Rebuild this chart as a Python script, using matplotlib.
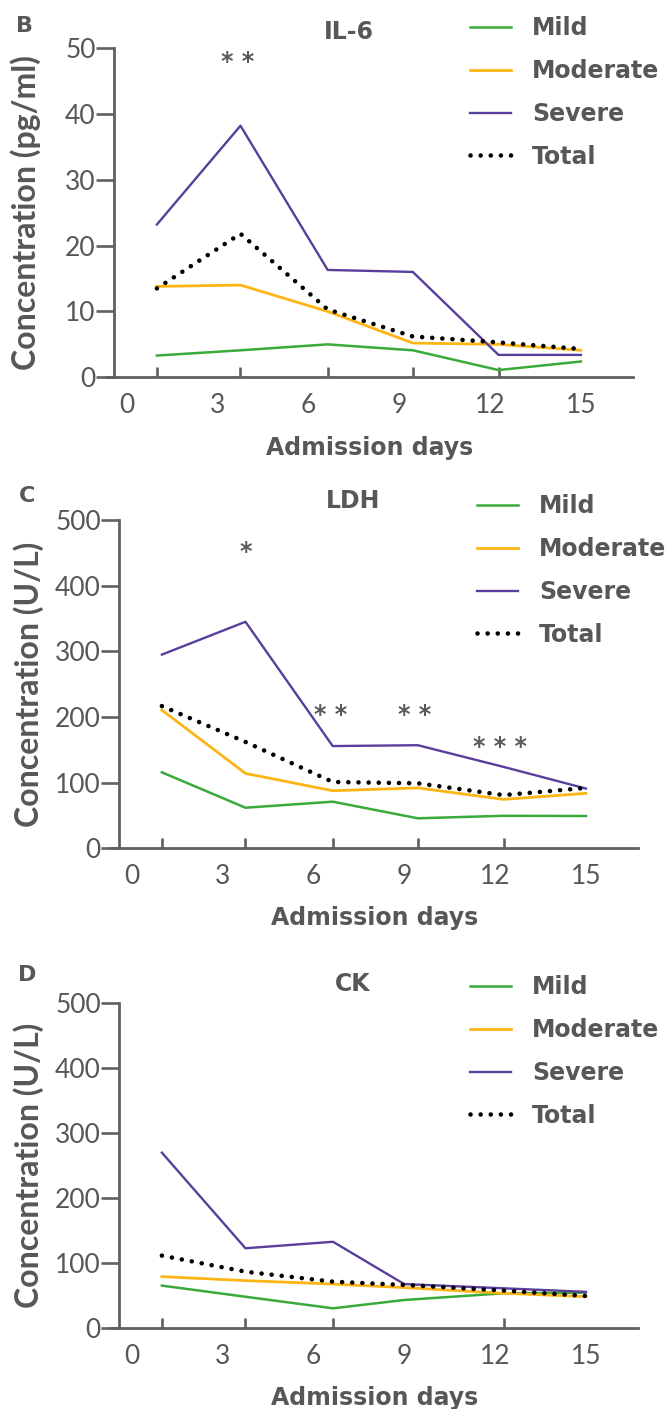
import matplotlib
matplotlib.use("Agg")
from matplotlib import pyplot as plt
import numpy as np

W, H = 667, 1409

groups = ["Mild", "Moderate", "Severe", "Total"]
day_ticks = [0, 3, 6, 9, 12, 15]
days = [1.0, 3.76, 6.64, 9.45, 12.28, 15.0]
ck_days = [1.0, 3.76, 6.65, 9.0, 12.28, 15.0]

# IL-6 (pg/ml)
il6_mild = [3.3, 4.1, 5.0, 4.1, 1.1, 2.4]
il6_moderate = [13.8, 14.0, 10.0, 5.2, 5.0, 4.1]
il6_severe = [23.2, 38.2, 16.3, 16.0, 3.4, 3.4]
il6_total = [13.5, 21.8, 10.3, 6.2, 5.3, 4.3]

# LDH (U/L)
ldh_mild = [115.7, 61.8, 71.0, 45.7, 49.5, 49.2]
ldh_moderate = [210.5, 114.0, 87.7, 92.0, 74.5, 83.7]
ldh_severe = [295.0, 345.0, 155.7, 157.0, 124.0, 91.0]
ldh_total = [216.6, 162.0, 101.0, 99.0, 81.0, 92.0]

# CK (U/L)
ck_mild = [65.6, 48.5, 30.7, 43.5, 53.8, 54.8]
ck_moderate = [79.4, 73.3, 68.0, 62.6, 53.8, 48.7]
ck_severe = [270.0, 123.0, 133.0, 68.0, 61.5, 56.0]
ck_total = [111.7, 87.0, 71.7, 66.6, 58.0, 49.7]

# significance marks (day, value, text)
il6_stars = [(3.68, 47.9, "* *")]
ldh_stars = [(3.78, 451, "*"), (6.57, 203, "* *"), (9.36, 203, "* *"), (12.15, 155, "* * *")]

GRAY = "#575757"
AX_GRAY = "#606060"
styles = {
    "Mild": dict(color="#3aaa3a", lw=1.8),
    "Moderate": dict(color="#fdb515", lw=2.0),
    "Severe": dict(color="#5a3e9b", lw=1.7),
    "Total": dict(color="black", lw=3.3, linestyle=(0, (0.01, 2.2)),
                  dash_capstyle="round"),
}

plt.rcParams["font.family"] = ["Lato", "DejaVu Sans"]

fig = plt.figure(figsize=(W / 100, H / 100), dpi=100)


def px(x, y):
    return x / W, 1 - y / H


def draw_panel(box, letter, letter_xy, title, title_xy, xs, series, ytop, ystep,
               ylabel, ylabel_x, stars, legend_xy):
    left, top, right, bottom = box
    ax = fig.add_axes([left / W, 1 - bottom / H, (right - left) / W, (bottom - top) / H])
    for name, vals in zip(groups, series):
        ax.plot(xs, vals, label=name, **styles[name])
    ax.set_xlim(-0.68, 16.72)
    ax.set_ylim(0, ytop)
    for s in ["top", "right"]:
        ax.spines[s].set_visible(False)
    for s in ["left", "bottom"]:
        ax.spines[s].set_color(AX_GRAY)
        ax.spines[s].set_linewidth(2.0)
    ax.spines["left"].set_position(("data", -0.42))

    ax.set_yticks(np.arange(0, ytop + 1, ystep))
    ax.tick_params(axis="y", direction="out", length=13, width=1.9, pad=0,
                   color=AX_GRAY, labelcolor=GRAY, labelsize=19)
    ax.set_xticks(day_ticks)
    ax.set_xticks(xs, minor=True)
    ax.tick_params(axis="x", which="major", length=0, pad=11,
                   labelcolor=GRAY, labelsize=19)
    ax.tick_params(axis="x", which="minor", direction="in", length=7.5,
                   width=1.9, color=AX_GRAY)

    ax.set_xlabel("Admission days", family="DejaVu Sans", weight="bold",
                  size=17, color=GRAY)
    ax.xaxis.set_label_coords(0.5, -0.177)
    ax.set_ylabel(ylabel, family="Lato", weight="bold", size=23, color=GRAY,
                  va="center")
    ax.yaxis.set_label_coords((ylabel_x - left) / (right - left), 0.5)

    for x, y, txt in stars:
        ax.text(x, y, txt, ha="center", va="center", size=17, color="#5a5a5a",
                family="DejaVu Sans", weight="bold")

    fig.text(*px(*letter_xy), letter, ha="center", va="center",
             family="DejaVu Sans", weight="bold", size=16, color=GRAY)
    fig.text(*px(*title_xy), title, ha="center", va="center",
             family="DejaVu Sans", weight="bold", size=17, color=GRAY)

    ax.legend(loc="upper left", bbox_to_anchor=px(*legend_xy),
              bbox_transform=fig.transFigure, frameon=False, borderpad=0,
              borderaxespad=0, handlelength=1.73, handletextpad=0.9,
              labelspacing=0.80, labelcolor=GRAY,
              prop=dict(family="DejaVu Sans", weight="bold", size=17))
    return ax


draw_panel((106, 48, 633, 377.3), "B", (25, 26), "IL-6", (348.5, 32), days,
           [il6_mild, il6_moderate, il6_severe, il6_total], 50, 10,
           "Concentration (pg/ml)", 26, il6_stars, (470, 16))
draw_panel((111, 520, 638, 848.3), "C", (27, 496), "LDH", (353, 501), days,
           [ldh_mild, ldh_moderate, ldh_severe, ldh_total], 500, 100,
           "Concentration (U/L)", 29, ldh_stars, (477, 494))
draw_panel((111, 1003, 638, 1328.3), "D", (27, 975), "CK", (353, 984), ck_days,
           [ck_mild, ck_moderate, ck_severe, ck_total], 500, 100,
           "Concentration (U/L)", 29, [], (470, 975))

fig.savefig("out.png", dpi=100)
